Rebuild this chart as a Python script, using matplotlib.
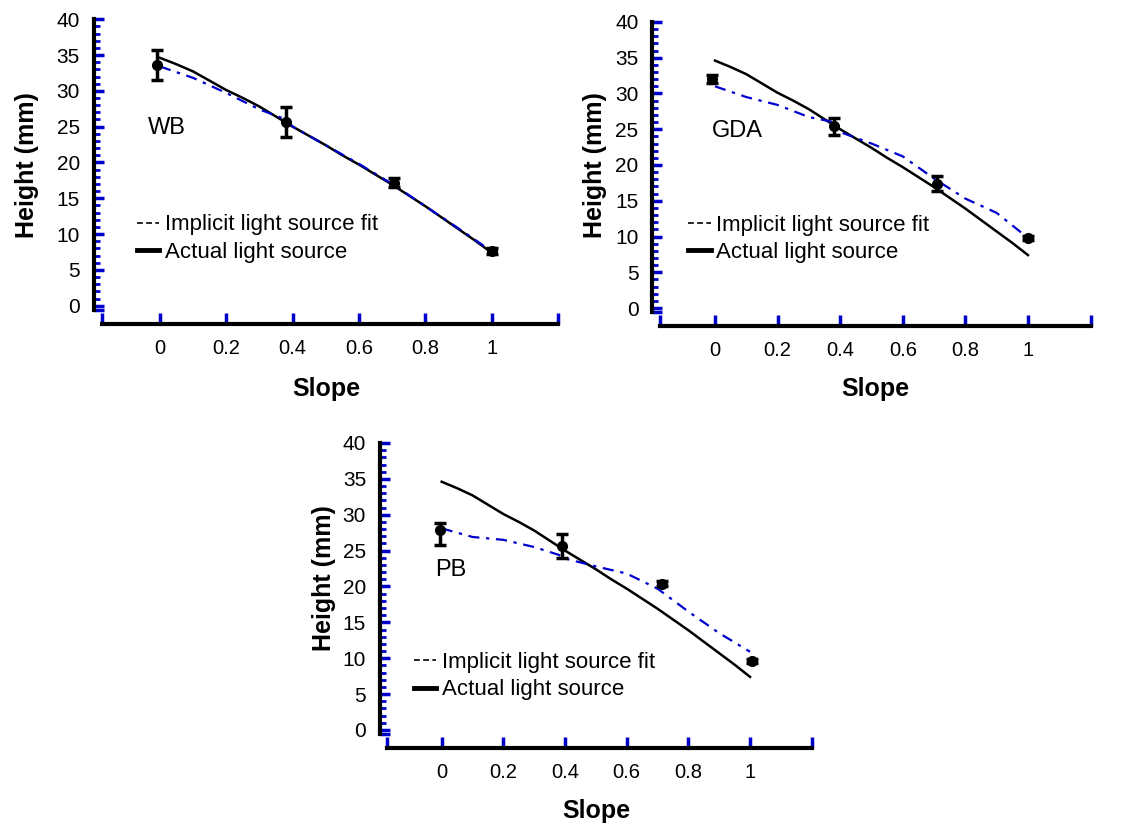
import numpy as np
import matplotlib
matplotlib.use("Agg")
import matplotlib.pyplot as plt
from matplotlib.lines import Line2D

plt.rcParams['font.family'] = ['Liberation Sans', 'DejaVu Sans']

# shared "actual light source" curve
slope_grid = [0.0, 0.05, 0.1, 0.15, 0.2, 0.25, 0.3, 0.35, 0.4, 0.45, 0.5,
              0.55, 0.6, 0.65, 0.7, 0.75, 0.8, 0.85, 0.9, 0.95, 1.0]
actual_height = [34.6, 33.7, 32.7, 31.4, 30.1, 29.0, 27.8, 26.4, 25.0, 23.7, 22.4,
                 21.0, 19.7, 18.3, 16.9, 15.4, 13.9, 12.3, 10.7, 9.1, 7.4]

# implicit light source fits
fit_slope = [0.0, 0.1, 0.2, 0.3, 0.38, 0.4, 0.5, 0.6, 0.7, 0.8, 0.9, 1.0]
wb_fit = [33.4, 31.8, 29.7, 27.4, 26.0, 25.0, 22.4, 19.8, 17.0, 13.9, 10.8, 7.6]
gda_fit = [31.0, 29.5, 28.4, 26.7, 26.0, 24.6, 23.0, 21.2, 18.1, 15.3, 13.3, 9.8]
pb_fit = [28.1, 26.9, 26.5, 25.5, 24.4, 23.9, 22.8, 21.8, 19.7, 16.5, 13.5, 10.9]

# measured points with error bars
wb_x = [-0.01, 0.38, 0.705, 1.0]
wb_y = [33.6, 25.6, 17.2, 7.6]
wb_lo = [2.1, 2.1, 0.6, 0.4]
wb_hi = [2.1, 2.1, 0.6, 0.4]

gda_x = [-0.01, 0.381, 0.708, 1.0]
gda_y = [32.0, 25.4, 17.4, 9.75]
gda_lo = [0.6, 1.2, 1.0, 0.3]
gda_hi = [0.6, 1.2, 1.0, 0.3]

pb_x = [-0.005, 0.389, 0.716, 1.005]
pb_y = [27.9, 25.7, 20.4, 9.65]
pb_lo = [2.1, 1.7, 0.4, 0.3]
pb_hi = [1.0, 1.6, 0.4, 0.3]

x_ticks = [-0.176, 0, 0.2, 0.4, 0.6, 0.8, 1.0, 1.2]
x_labels = ['', '0', '0.2', '0.4', '0.6', '0.8', '1', '']
y_ticks = [-0.6, 0, 5, 10, 15, 20, 25, 30, 35, 40]
y_labels = ['', '0', '5', '10', '15', '20', '25', '30', '35', '40']

legend_labels = ['Implicit light source fit', 'Actual light source']

W, H = 1122, 826
BLUE = '#0000cc'


def px_rect(left, right, top, bottom):
    return [left / W, (H - bottom) / H, (right - left) / W, (bottom - top) / H]


def setup_axes(ax):
    ax.set_xlim(-0.2, 1.2)
    ax.set_ylim(-2.5, 40.5)
    for s in ['top', 'right']:
        ax.spines[s].set_visible(False)
    for s in ['left', 'bottom']:
        ax.spines[s].set_linewidth(3)
        ax.spines[s].set_color('black')
    ax.spines['left'].set_bounds(-0.6, 40)
    ax.spines['bottom'].set_bounds(-0.176, 1.2)
    ax.set_xticks(x_ticks)
    ax.set_xticklabels(x_labels)
    ax.set_yticks(y_ticks)
    ax.set_yticklabels(y_labels)
    ax.set_yticks(np.arange(0, 41, 1), minor=True)
    ax.tick_params(axis='x', direction='in', length=8, width=2.5, color=BLUE,
                   labelsize=14.5, pad=11)
    ax.tick_params(axis='y', which='major', direction='in', length=7, width=2.5,
                   color=BLUE, labelsize=15, pad=10)
    ax.tick_params(axis='y', which='minor', direction='in', length=4, width=2,
                   color=BLUE)
    ax.tick_params(axis='x', which='minor', bottom=False)


def plot_panel(rect, fit, px, py, lo, hi, name, name_xy, leg_xy, ylab_xy, xlab_xy):
    ax = fig.add_axes(rect)
    setup_axes(ax)
    ax.plot(slope_grid, actual_height, color='black', lw=1.8, zorder=3)
    ax.plot(fit_slope, fit, color=BLUE, lw=1.6, dashes=(5, 3, 1.5, 3), zorder=3)
    ax.errorbar(px, py, yerr=[lo, hi], fmt='o', color='black', ms=7,
                mfc='black', mec='black', elinewidth=2.5, capsize=4, capthick=2.5,
                zorder=4)
    ax.text(name_xy[0], name_xy[1], name, fontsize=17, ha='left', va='center')
    handles = [Line2D([], [], color='black', lw=1.2, dashes=(3.5, 2)),
               Line2D([], [], color='black', lw=3.5)]
    ax.legend(handles, legend_labels, loc='upper left', bbox_to_anchor=leg_xy,
              frameon=False, fontsize=16, handlelength=1.0, handletextpad=0.25,
              labelspacing=0.3, borderpad=0, borderaxespad=0)
    ax.set_xlabel('Slope', fontsize=18, fontweight='bold')
    ax.set_ylabel('Height (mm)', fontsize=18, fontweight='bold')
    ax.xaxis.set_label_coords(*xlab_xy)
    ax.yaxis.set_label_coords(*ylab_xy)
    return ax


fig = plt.figure(figsize=(W / 100, H / 100), dpi=100)

plot_panel(px_rect(93.7, 558, 15.6, 323.7), wb_fit, wb_x, wb_y, wb_lo, wb_hi,
           'WB', (-0.036, 24.8), (0.093, 0.355), (-0.118, 0.515), (0.502, -0.173))
plot_panel(px_rect(652.4, 1090.6, 18.4, 325.9), gda_fit, gda_x, gda_y, gda_lo, gda_hi,
           'GDA', (-0.01, 24.8), (0.082, 0.362), (-0.104, 0.523), (0.508, -0.166))
plot_panel(px_rect(380, 811.7, 439.4, 747.9), pb_fit, pb_x, pb_y, pb_lo, pb_hi,
           'PB', (-0.022, 22.3), (0.079, 0.312), (-0.101, 0.55), (0.502, -0.166))

fig.savefig('out.png', dpi=100)
